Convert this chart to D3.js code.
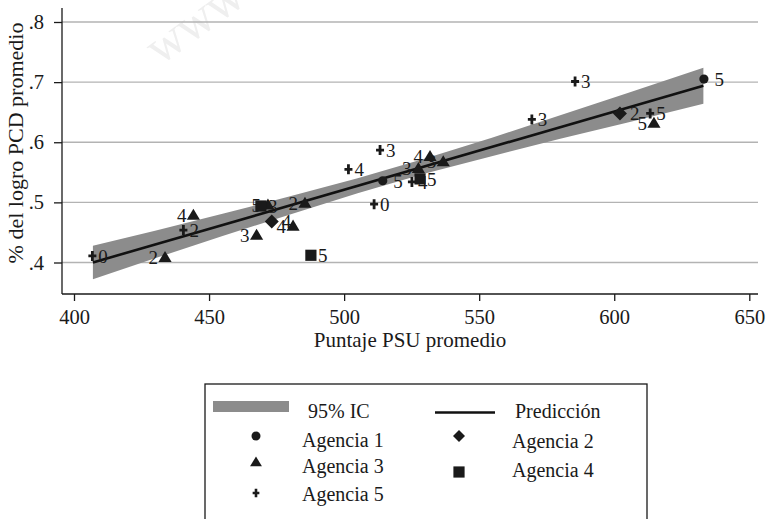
<!DOCTYPE html>
<html>
<head>
<meta charset="utf-8">
<script src="https://cdn.jsdelivr.net/npm/d3@7"></script>
<style>
  html, body { margin: 0; padding: 0; background: #fff; }
  svg { display: block; }
  svg text { font-family: "Liberation Serif", "Times New Roman", serif; }
</style>
</head>
<body>
<svg id="chart" width="767" height="519"></svg>
<script>
// ---- axis ticks ----
const xTicks = [400, 450, 500, 550, 600, 650];
const xTickLabels = ["400", "450", "500", "550", "600", "650"];
const yTicks = [0.4, 0.5, 0.6, 0.7, 0.8];
const yTickLabels = [".4", ".5", ".6", ".7", ".8"];

// ---- fitted line and 95% confidence band ----
const fitX = [407, 633];
const fitY = [0.400, 0.694];
const ciX    = [407,   430,   455,   480,   505,   530,   555,   580,   605,   633];
const ciLow  = [0.372, 0.407, 0.444, 0.480, 0.515, 0.548, 0.577, 0.606, 0.633, 0.664];
const ciHigh = [0.428, 0.453, 0.481, 0.510, 0.540, 0.573, 0.608, 0.645, 0.682, 0.724];

// ---- agencies: PSU score, PCD achievement, point label ----
const agencia1X = [514.3, 633.2];
const agencia1Y = [0.536, 0.705];
const agencia1L = ["5", "5"];

const agencia2X = [473.2, 602.1];
const agencia2Y = [0.468, 0.648];
const agencia2L = ["4", "2"];

const agencia3X = [433.7, 444.2, 467.6, 471.8, 481.1, 485.5, 527.5, 531.8, 536.7, 614.7];
const agencia3Y = [0.409, 0.479, 0.446, 0.496, 0.461, 0.499, 0.557, 0.577, 0.568, 0.632];
const agencia3L = ["2", "4", "3", "5", "4", "2", "3", "4", "3", "5"];

const agencia4X = [469.2, 487.7, 528.1];
const agencia4Y = [0.494, 0.412, 0.539];
const agencia4L = ["3", "5", "5"];

const agencia5X = [406.8, 440.5, 501.6, 511.1, 513.3, 525.1, 569.5, 585.5, 613.3];
const agencia5Y = [0.411, 0.454, 0.555, 0.497, 0.587, 0.534, 0.638, 0.701, 0.648];
const agencia5L = ["0", "2", "4", "0", "3", "4", "3", "3", "5"];

// ---- layout ----
const ink = "#1a1a1a";
const serif = "Liberation Serif, Times New Roman, serif";
const plot = { left: 62, right: 758, top: 8, bottom: 294 };

const svg = d3.select("#chart");

const x = d3.scaleLinear().domain([400, 650]).range([74, 749.3]);
const y = d3.scaleLinear().domain([0.4, 0.8]).range([262.5, 22]);

// marker shapes centred on (0,0)
const shapes = {
  circle: r => `M${-r},0A${r},${r} 0 1,0 ${r},0A${r},${r} 0 1,0 ${-r},0Z`,
  diamond: r => `M0,${-r}L${r},0L0,${r}L${-r},0Z`,
  triangle: r => `M0,${-r}L${r * 1.06},${r * 0.78}L${-r * 1.06},${r * 0.78}Z`,
  square: r => `M${-r},${-r}H${r}V${r}H${-r}Z`,
  plus: r => `M${-r * 0.8},0H${r * 0.8}M0,${-r}V${r}`
};

// faint background watermark
svg.append("text")
  .attr("transform", "translate(160,66) rotate(-36)")
  .attr("font-family", serif)
  .attr("font-size", 50)
  .attr("fill", "#efefef")
  .text("www");

// horizontal grid
svg.append("g").selectAll("line").data(yTicks).join("line")
  .attr("x1", plot.left).attr("x2", plot.right)
  .attr("y1", d => y(d)).attr("y2", d => y(d))
  .attr("stroke", "#b3b3b3").attr("stroke-width", 1.3);

// confidence band
const band = ciX.map((v, i) => ({ x: v, lo: ciLow[i], hi: ciHigh[i] }));
svg.append("path")
  .datum(band)
  .attr("fill", "#8c8c8c")
  .attr("d", d3.area().x(d => x(d.x)).y0(d => y(d.lo)).y1(d => y(d.hi)));

// fitted line
svg.append("path")
  .datum(fitX.map((v, i) => [v, fitY[i]]))
  .attr("fill", "none").attr("stroke", "#111").attr("stroke-width", 2.6)
  .attr("d", d3.line().x(d => x(d[0])).y(d => y(d[1])));

// scatter series
const series = [
  { xs: agencia1X, ys: agencia1Y, ls: agencia1L, shape: "circle", r: 4.6, side: 1, gap: 10.5 },
  { xs: agencia2X, ys: agencia2Y, ls: agencia2L, shape: "diamond", r: 7, side: 1, gap: 10 },
  { xs: agencia3X, ys: agencia3Y, ls: agencia3L, shape: "triangle", r: 6.2, side: -1, gap: 7 },
  { xs: agencia4X, ys: agencia4Y, ls: agencia4L, shape: "square", r: 5.6, side: 1, gap: 7 },
  { xs: agencia5X, ys: agencia5Y, ls: agencia5L, shape: "plus", r: 5, side: 1, gap: 6 }
];

series.forEach(s => {
  const pts = s.xs.map((v, i) => ({ x: v, y: s.ys[i], l: s.ls[i] }));
  const g = svg.append("g");
  g.selectAll("path").data(pts).join("path")
    .attr("transform", d => `translate(${x(d.x)},${y(d.y)})`)
    .attr("d", shapes[s.shape](s.r))
    .attr("fill", s.shape === "plus" ? "none" : ink)
    .attr("stroke", s.shape === "plus" ? ink : "none")
    .attr("stroke-width", s.shape === "plus" ? 2.8 : 0);
  g.selectAll("text").data(pts).join("text")
    .attr("x", d => x(d.x) + s.side * s.gap)
    .attr("y", d => y(d.y))
    .attr("dy", "0.36em")
    .attr("text-anchor", s.side > 0 ? "start" : "end")
    .attr("font-family", serif)
    .attr("font-size", 19)
    .attr("fill", ink)
    .text(d => d.l);
});

// axes
const gx = svg.append("g").attr("transform", `translate(0,${plot.bottom})`)
  .call(d3.axisBottom(x).tickValues(xTicks).tickFormat((d, i) => xTickLabels[i])
    .tickSize(7).tickPadding(8));
gx.attr("font-family", serif).attr("font-size", 20.5);
gx.select(".domain").remove();
gx.selectAll(".tick line").attr("stroke", ink).attr("stroke-width", 1.3);
gx.selectAll(".tick text").attr("font-family", serif).attr("font-size", 20.5).attr("fill", ink);

const gy = svg.append("g").attr("transform", `translate(${plot.left},0)`)
  .call(d3.axisLeft(y).tickValues(yTicks).tickFormat((d, i) => yTickLabels[i])
    .tickSize(8).tickPadding(10));
gy.attr("font-family", serif).attr("font-size", 20.5);
gy.select(".domain").remove();
gy.selectAll(".tick line").attr("stroke", ink).attr("stroke-width", 1.3);
gy.selectAll(".tick text").attr("font-family", serif).attr("font-size", 20.5).attr("fill", ink);

svg.append("line")
  .attr("x1", plot.left).attr("x2", plot.right)
  .attr("y1", plot.bottom).attr("y2", plot.bottom)
  .attr("stroke", ink).attr("stroke-width", 1.3);
svg.append("line")
  .attr("x1", plot.left).attr("x2", plot.left)
  .attr("y1", plot.top).attr("y2", plot.bottom)
  .attr("stroke", ink).attr("stroke-width", 1.3);

// axis titles
svg.append("text")
  .attr("x", (plot.left + plot.right) / 2).attr("y", 347)
  .attr("text-anchor", "middle").attr("font-family", serif)
  .attr("font-size", 21).attr("fill", ink)
  .text("Puntaje PSU promedio");
svg.append("text")
  .attr("transform", "translate(23,143) rotate(-90)")
  .attr("text-anchor", "middle").attr("font-family", serif)
  .attr("font-size", 22).attr("fill", ink)
  .text("% del logro PCD promedio");

// legend
const lg = svg.append("g");
lg.append("rect")
  .attr("x", 205).attr("y", 384).attr("width", 442).attr("height", 200)
  .attr("fill", "#fff").attr("stroke", ink).attr("stroke-width", 1.3);
lg.append("rect")
  .attr("x", 213).attr("y", 401).attr("width", 76).attr("height", 11)
  .attr("fill", "#8c8c8c");
lg.append("line")
  .attr("x1", 435).attr("x2", 495).attr("y1", 412.5).attr("y2", 412.5)
  .attr("stroke", "#111").attr("stroke-width", 2.6);

const legendItems = [
  { label: "95% IC", tx: 308, ty: 411 },
  { label: "Predicción", tx: 515, ty: 410.5 },
  { label: "Agencia 1", tx: 302, ty: 440, shape: "circle", r: 4.5, mx: 256, my: 436 },
  { label: "Agencia 2", tx: 512, ty: 440.5, shape: "diamond", r: 6, mx: 459, my: 436 },
  { label: "Agencia 3", tx: 302, ty: 466, shape: "triangle", r: 5.6, mx: 256, my: 462 },
  { label: "Agencia 4", tx: 512, ty: 469.5, shape: "square", r: 5.6, mx: 459, my: 472 },
  { label: "Agencia 5", tx: 302, ty: 493.5, shape: "plus", r: 4.2, mx: 256, my: 493 }
];
legendItems.forEach(it => {
  if (it.shape) {
    lg.append("path")
      .attr("transform", `translate(${it.mx},${it.my})`)
      .attr("d", shapes[it.shape](it.r))
      .attr("fill", it.shape === "plus" ? "none" : ink)
      .attr("stroke", it.shape === "plus" ? ink : "none")
      .attr("stroke-width", it.shape === "plus" ? 2.6 : 0);
  }
  lg.append("text")
    .attr("x", it.tx).attr("y", it.ty).attr("dy", "0.35em")
    .attr("font-family", serif)
    .attr("font-size", 20).attr("fill", ink)
    .text(it.label);
});
</script>
</body>
</html>
